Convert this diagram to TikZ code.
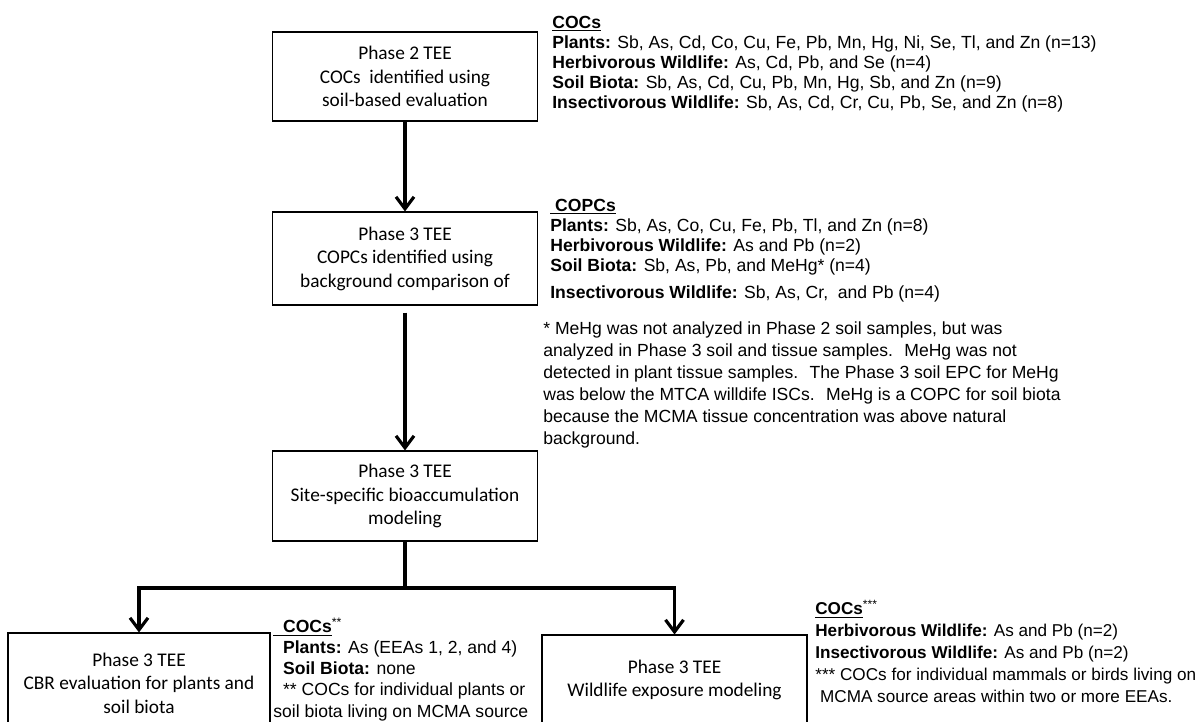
\documentclass[tikz,border=0pt]{standalone}
\usepackage{fontspec}
\usepackage{xcolor}
\usepackage{tikz}
\usetikzlibrary{arrows.meta, positioning, calc}

\newfontfamily\boxfont{Carlito}
\newfontfamily\notefont{Liberation Sans}

\begin{document}
\begin{tikzpicture}[
    phasebox/.style={draw=black, line width=0.6pt, minimum width=5.3cm, minimum height=1.8cm, align=center, inner sep=2pt, font=\boxfont\fontsize{11}{13.4}\selectfont},
    flowline/.style={line width=1.8pt, color=black},
    flowarrow/.style={flowline, -{Straight Barb[length=2.4mm, width=3.6mm]}},
    coclist/.style={anchor=north west, inner sep=0pt, align=left, font=\notefont\fontsize{10}{11.5}\selectfont},
    footnote/.style={coclist, font=\notefont\fontsize{10}{12.5}\selectfont}
]

\useasboundingbox (0,0) rectangle (24.08,-14.42);

% === FLOW BOXES ===
\node[phasebox, minimum height=1.78cm] (tee2) at (8.1,-1.53) {Phase 2 TEE\\COCs~ identified using\\soil-based evaluation};
\node[phasebox, minimum height=1.86cm] (copc) at (8.1,-5.17) {Phase 3 TEE\\COPCs identified using\\background comparison of};
\node[phasebox] (bioacc) at (8.1,-9.92) {Phase 3 TEE\\Site-specific bioaccumulation\\modeling};
\node[phasebox, minimum width=5.24cm, minimum height=2.0cm] (cbr) at (2.78,-13.66) {Phase 3 TEE\\CBR evaluation for plants and\\soil biota};
\node[phasebox] (wild) at (13.49,-13.6) {Phase 3 TEE\\Wildlife exposure modeling};

% === ARROWS ===
\coordinate (split) at (8.1,-11.76);
\draw[flowarrow] (tee2) -- (copc);
\draw[flowarrow, shorten <=0.14cm] (copc) -- (bioacc);
\draw[flowline] (bioacc) -- (split);
\draw[flowarrow] (split) -| (cbr);
\draw[flowarrow] (split) -| (wild);

% === COC LISTS ===
\node[coclist] (cocs2) at (11.04,-0.31) {\underline{\textbf{COCs}}\\
\textbf{Plants:} Sb, As, Cd, Co, Cu, Fe, Pb, Mn, Hg, Ni, Se, Tl, and Zn (n=13)\\
\textbf{Herbivorous Wildlife:} As, Cd, Pb, and Se (n=4)\\
\textbf{Soil Biota:} Sb, As, Cd, Cu, Pb, Mn, Hg, Sb, and Zn (n=9)\\
\textbf{Insectivorous Wildlife:} Sb, As, Cd, Cr, Cu, Pb, Se, and Zn (n=8)};

\node[coclist] (copcs3) at (11.0,-3.97) {\underline{\ \textbf{COPCs}}\\
\textbf{Plants:} Sb, As, Co, Cu, Fe, Pb, Tl, and Zn (n=8)\\
\textbf{Herbivorous Wildlife:} As and Pb (n=2)\\
\textbf{Soil Biota:} Sb, As, Pb, and MeHg* (n=4)\\[4pt]
\textbf{Insectivorous Wildlife:} Sb, As, Cr,~ and Pb (n=4)};

\node[footnote] (mehg) at (10.86,-6.43) {* MeHg was not analyzed in Phase 2 soil samples, but was\\
analyzed in Phase 3 soil and tissue samples.~ MeHg was not\\
detected in plant tissue samples.~ The Phase 3 soil EPC for MeHg\\
was below the MTCA willdife ISCs.~ MeHg is a COPC for soil biota\\
because the MCMA tissue concentration was above natural\\
background.};

\node[coclist, font=\notefont\fontsize{10}{11.9}\selectfont] (cocscbr) at (5.46,-12.35) {\underline{\ \ \textbf{COCs}}\textsuperscript{**}\\
\ \ \textbf{Plants:} As (EEAs 1, 2, and 4)\\
\ \ \textbf{Soil Biota:} none\\
\ \ ** COCs for individual plants or\\[0.5pt]
soil biota living on MCMA source};

\node[footnote, font=\notefont\fontsize{9.75}{12.5}\selectfont] (cocswild) at (16.3,-12.0) {\underline{\textbf{COCs}}\textsuperscript{***}\\
\textbf{Herbivorous Wildlife:} As and Pb (n=2)\\
\textbf{Insectivorous Wildlife:} As and Pb (n=2)\\
*** COCs for individual mammals or birds living on\\
\ MCMA source areas within two or more EEAs.};

\end{tikzpicture}
\end{document}
